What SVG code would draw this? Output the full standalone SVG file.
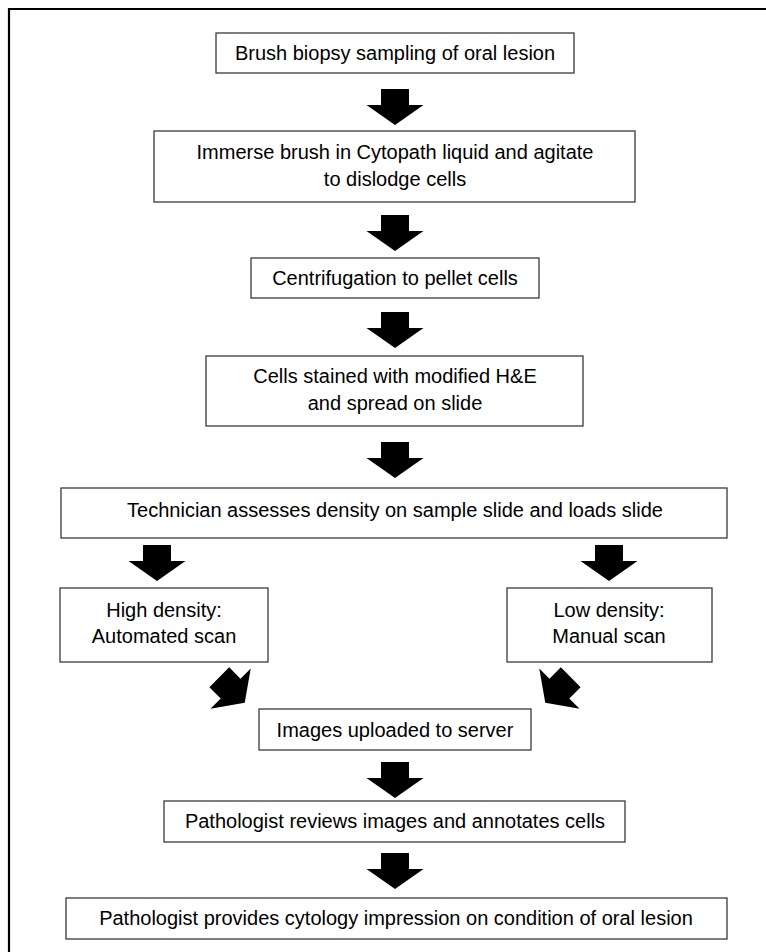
<svg xmlns="http://www.w3.org/2000/svg" width="766" height="952" viewBox="0 0 766 952">
<defs>
<style>
.box{fill:#fff;stroke:#3a3a3a;stroke-width:1.3}
.t{font-family:"Liberation Sans",Arial,sans-serif;font-size:20px;fill:#000;text-anchor:middle}
.arr{fill:#000}
</style>
<path id="dn" d="M -14,-18 H 14 V -2 H 28.5 L 0,18 L -28.5,-2 H -14 Z"/>
</defs>
<rect width="766" height="952" fill="#fff"/>
<path d="M 9,952 V 9 H 766" fill="none" stroke="#000" stroke-width="2.2"/>

<g id="n1"><rect class="box" x="216" y="33" width="358" height="40"/><text class="t" x="395" y="60">Brush biopsy sampling of oral lesion</text></g>
<g id="n2"><rect class="box" x="154" y="131" width="481" height="71"/><text class="t" x="395" y="159">Immerse brush in Cytopath liquid and agitate</text><text class="t" x="395" y="186">to dislodge cells</text></g>
<g id="n3"><rect class="box" x="251" y="258" width="288" height="40"/><text class="t" x="395" y="285">Centrifugation to pellet cells</text></g>
<g id="n4"><rect class="box" x="206" y="356" width="377" height="70"/><text class="t" x="395" y="383">Cells stained with modified H&amp;E</text><text class="t" x="395" y="410">and spread on slide</text></g>
<g id="n5"><rect class="box" x="61" y="488" width="666" height="50"/><text class="t" x="395" y="517">Technician assesses density on sample slide and loads slide</text></g>
<g id="n6"><rect class="box" x="60" y="588" width="208" height="74"/><text class="t" x="164" y="617">High density:</text><text class="t" x="164" y="643">Automated scan</text></g>
<g id="n7"><rect class="box" x="507" y="588" width="205" height="74"/><text class="t" x="609" y="617">Low density:</text><text class="t" x="609" y="643">Manual scan</text></g>
<g id="n8"><rect class="box" x="259" y="709" width="272" height="41"/><text class="t" x="395" y="737">Images uploaded to server</text></g>
<g id="n9"><rect class="box" x="164" y="801" width="461" height="41"/><text class="t" x="395" y="828">Pathologist reviews images and annotates cells</text></g>
<g id="n10"><rect class="box" x="66" y="898" width="661" height="41"/><text class="t" x="396" y="925">Pathologist provides cytology impression on condition of oral lesion</text></g>

<g id="connectors" class="arr">
<use href="#dn" transform="translate(395,107)"/>
<use href="#dn" transform="translate(395,233)"/>
<use href="#dn" transform="translate(395,330)"/>
<use href="#dn" transform="translate(395,460)"/>
<use href="#dn" transform="translate(157,563)"/>
<use href="#dn" transform="translate(609,563)"/>
<use href="#dn" transform="translate(232,690) rotate(-45)"/>
<use href="#dn" transform="translate(558,690) rotate(45)"/>
<use href="#dn" transform="translate(395,780)"/>
<use href="#dn" transform="translate(395,871)"/>
</g>
</svg>
